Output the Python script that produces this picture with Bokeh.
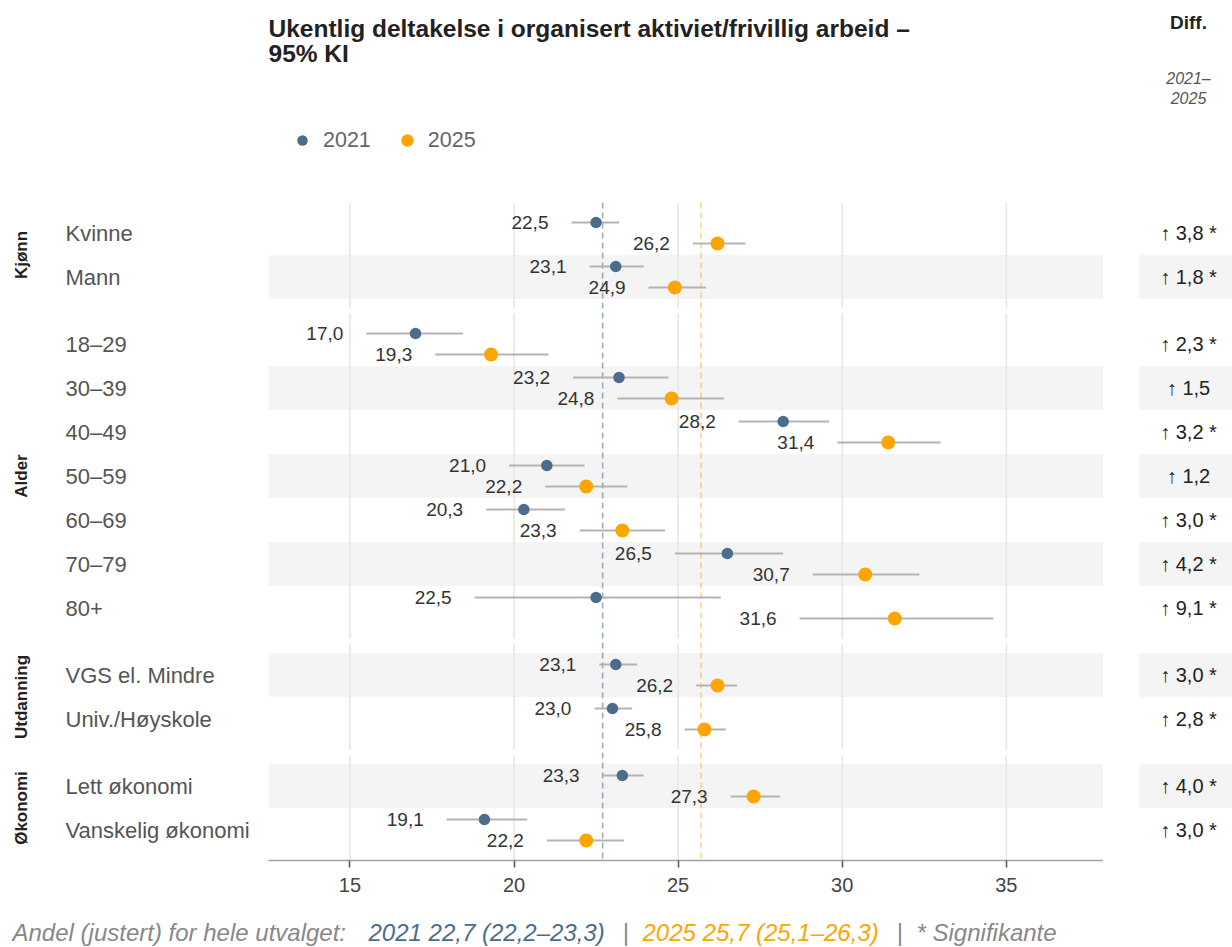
from math import pi
from bokeh.plotting import figure
from bokeh.layouts import column, row
from bokeh.models import (ColumnDataSource, Range1d, Legend, LegendItem, FixedTicker)
from bokeh.core.properties import value
from bokeh.embed import file_html
from bokeh.resources import INLINE

# ---------------- data ----------------
groups = ["Kjønn", "Alder", "Utdanning", "Økonomi"]
group_sizes = [2, 7, 2, 2]
categories = ["Kvinne", "Mann", "18–29", "30–39", "40–49", "50–59", "60–69",
              "70–79", "80+", "VGS el. Mindre", "Univ./Høyskole",
              "Lett økonomi", "Vanskelig økonomi"]
val_2021 = [22.5, 23.1, 17.0, 23.2, 28.2, 21.0, 20.3, 26.5, 22.5, 23.1, 23.0, 23.3, 19.1]
lo_2021 = [21.75, 22.3, 15.5, 21.8, 26.85, 19.85, 19.15, 24.9, 18.8, 22.6, 22.45, 22.7, 17.95]
hi_2021 = [23.2, 23.95, 18.45, 24.7, 29.6, 22.15, 21.55, 28.2, 26.3, 23.75, 23.6, 23.95, 20.4]
val_2025 = [26.2, 24.9, 19.3, 24.8, 31.4, 22.2, 23.3, 30.7, 31.6, 26.2, 25.8, 27.3, 22.2]
lo_2025 = [25.45, 24.1, 17.6, 23.15, 29.85, 20.95, 22.0, 29.1, 28.7, 25.55, 25.2, 26.6, 21.0]
hi_2025 = [27.05, 25.85, 21.05, 26.4, 33.0, 23.45, 24.6, 32.35, 34.6, 26.8, 26.45, 28.1, 23.35]
diff = [3.8, 1.8, 2.3, 1.5, 3.2, 1.2, 3.0, 4.2, 9.1, 3.0, 2.8, 4.0, 3.0]
significant = [True, True, True, False, True, False, True, True, True, True, True, True, True]
overall_years = ["2021", "2025"]
overall_value = [22.7, 25.7]
overall_lo = [22.2, 25.1]
overall_hi = [23.3, 26.3]
x_ticks = [15, 20, 25, 30, 35]

# ---------------- style ----------------
FONT = value("Liberation Sans")
C21 = "#4b6d8b"
C25 = "#ffa500"
BAND = "#f4f4f4"
GRID = "#e6e6e6"

ROW_H = 44.0
PAD = 8.5
GAP = 6.0

W, H = 1232, 947
FRAME_L, FRAME_R, FRAME_T = 268, 1103, 202
AXIS_H = 50


def fmt(v):
    return f"{v:.1f}".replace(".", ",")


def blank(width, height, xr, yr):
    f = figure(width=width, height=height, x_range=xr, y_range=yr,
               output_backend="svg", toolbar_location=None,
               x_axis_location=None, y_axis_location=None,
               min_border=0)
    f.outline_line_color = None
    f.grid.visible = False
    f.background_fill_color = "white"
    f.border_fill_color = "white"
    return f


# ---------------- layout of rows ----------------
row_top = []
facets = []
cur = 0.0
for n in group_sizes:
    ftop = cur
    cur += PAD
    for _ in range(n):
        row_top.append(cur)
        cur += ROW_H
    cur += PAD
    facets.append((ftop, cur))
    cur += GAP
total_h = cur - GAP
row_mid = [t + ROW_H / 2 for t in row_top]
y21 = [m - 10.5 for m in row_mid]
y25 = [m + 10.5 for m in row_mid]
band_idx = [i for i in range(len(categories)) if i % 2 == 1]

MID_H = int(total_h) + AXIS_H
BOT_H = H - FRAME_T - MID_H

yr = Range1d(total_h, 0)

# ---------------- main panel ----------------
x_lo, x_hi = 12.52, 37.96
p = figure(width=FRAME_R - FRAME_L, height=MID_H, x_range=Range1d(x_lo, x_hi),
           y_range=yr, output_backend="svg", toolbar_location=None,
           y_axis_location=None, min_border_left=0, min_border_right=0,
           min_border_top=0, min_border_bottom=AXIS_H)
p.outline_line_color = None
p.xgrid.visible = False
p.ygrid.visible = False
p.background_fill_color = "white"
p.border_fill_color = "white"

p.quad(left=[x_lo] * len(band_idx), right=[x_hi] * len(band_idx),
       top=[row_top[i] for i in band_idx],
       bottom=[row_top[i] + ROW_H for i in band_idx],
       fill_color=BAND, line_color=None)

gx, gy0, gy1 = [], [], []
for (ft, fb) in facets:
    for t in x_ticks:
        gx.append(t); gy0.append(ft); gy1.append(fb)
p.segment(x0=gx, y0=gy0, x1=gx, y1=gy1, line_color=GRID, line_width=1.6)

p.segment(x0=[overall_value[0]], y0=[0], x1=[overall_value[0]], y1=[total_h],
          line_color=C21, line_alpha=0.55, line_width=1.6, line_dash="6 4")
p.segment(x0=[overall_value[1]], y0=[0], x1=[overall_value[1]], y1=[total_h],
          line_color=C25, line_alpha=0.5, line_width=1.6, line_dash="6 4")

src21 = ColumnDataSource(dict(x=val_2021, lo=lo_2021, hi=hi_2021, y=y21,
                              txt=[fmt(v) for v in val_2021]))
src25 = ColumnDataSource(dict(x=val_2025, lo=lo_2025, hi=hi_2025, y=y25,
                              txt=[fmt(v) for v in val_2025]))
for s in (src21, src25):
    p.segment(x0="lo", y0="y", x1="hi", y1="y", source=s,
              line_color="#b3b3b3", line_width=2)
p.scatter(x="x", y="y", source=src21, size=11.5, fill_color=C21, line_color=None)
p.scatter(x="x", y="y", source=src25, size=14, fill_color=C25, line_color=None)
for s in (src21, src25):
    p.text(x="lo", y="y", text="txt", source=s, x_offset=-23,
           text_align="right", text_baseline="middle", text_font=FONT,
           text_font_size="19px", text_color="#333333")

ax = p.xaxis[0]
ax.ticker = FixedTicker(ticks=x_ticks)
ax.axis_line_color = "#a0a0a0"
ax.axis_line_width = 1.5
ax.major_tick_line_color = "#555555"
ax.major_tick_line_width = 1.5
ax.major_tick_out = 7
ax.major_tick_in = 0
ax.minor_tick_line_color = None
ax.major_label_text_font = "Liberation Sans"
ax.major_label_text_font_size = "20px"
ax.major_label_text_color = "#444444"
ax.major_label_standoff = 10

# ---------------- left panel (labels) ----------------
pl = blank(FRAME_L, MID_H, Range1d(0, FRAME_L), yr)
pl.min_border_bottom = AXIS_H
pl.text(x=[65] * len(categories), y=row_mid, text=categories,
        text_align="left", text_baseline="middle", text_font=FONT,
        text_font_size="22px", text_color="#555555")
pl.text(x=[21] * len(groups), y=[(a + b) / 2 for a, b in facets], text=groups,
        angle=pi / 2, text_align="center", text_baseline="middle",
        text_font=FONT, text_font_size="17px", text_font_style="bold",
        text_color="#222222")

# ---------------- right panel (diff) ----------------
pr = blank(W - FRAME_R, MID_H, Range1d(FRAME_R, W), yr)
pr.min_border_bottom = AXIS_H
pr.quad(left=[1139] * len(band_idx), right=[W] * len(band_idx),
        top=[row_top[i] for i in band_idx],
        bottom=[row_top[i] + ROW_H for i in band_idx],
        fill_color=BAND, line_color=None)
diff_txt = ["↑ " + fmt(d) + (" *" if s else "") for d, s in zip(diff, significant)]
pr.text(x=[1188] * len(diff), y=row_mid, text=diff_txt,
        text_align="center", text_baseline="middle", text_font=FONT,
        text_font_size="20px", text_color="#222222")

# ---------------- top panel ----------------
pt = blank(W, FRAME_T, Range1d(0, W), Range1d(FRAME_T, 0))
pt.text(x=[FRAME_L, FRAME_L], y=[28, 53],
        text=["Ukentlig deltakelse i organisert aktiviet/frivillig arbeid –", "95% KI"],
        text_align="left", text_baseline="middle", text_font=FONT,
        text_font_size="24.5px", text_font_style="bold", text_color="#222222")
pt.text(x=[1188], y=[22], text=["Diff."], text_align="center",
        text_baseline="middle", text_font=FONT, text_font_size="19px",
        text_font_style="bold", text_color="#222222")
pt.text(x=[1188, 1188], y=[78, 97], text=[overall_years[0] + "–", overall_years[1]],
        text_align="center", text_baseline="middle", text_font=FONT,
        text_font_size="16px", text_font_style="italic", text_color="#555555")
# legend: markers drawn at the legend's glyph slots, labels from a Legend
LEG_X, LEG_Y, LEG_STEP = 288, 126, 105
lg_dot_x = [LEG_X + 14 + i * LEG_STEP for i in range(2)]
pt.scatter(x=lg_dot_x, y=[LEG_Y + 14] * 2, size=[10.5, 12.5],
           fill_color=[C21, C25], line_color=None)
lg21 = pt.scatter(x=[], y=[], size=1, fill_alpha=0, line_alpha=0)
lg25 = pt.scatter(x=[], y=[], size=1, fill_alpha=0, line_alpha=0)
legend = Legend(items=[LegendItem(label=overall_years[0], renderers=[lg21]),
                       LegendItem(label=overall_years[1], renderers=[lg25])],
                location=(LEG_X, FRAME_T - LEG_Y - 28), orientation="horizontal",
                glyph_width=28, glyph_height=28, label_standoff=7, spacing=22,
                padding=0, margin=0, border_line_color=None,
                background_fill_alpha=0, label_text_font="Liberation Sans",
                label_text_font_size="21.5px", label_text_color="#666666")
pt.add_layout(legend)

# ---------------- bottom panel (footer) ----------------
Y0 = FRAME_T + MID_H
pb = blank(W, BOT_H, Range1d(0, W), Range1d(H, Y0))
foot_txt = ["Andel (justert) for hele utvalget:",
            f"{overall_years[0]} {fmt(overall_value[0])} ({fmt(overall_lo[0])}–{fmt(overall_hi[0])})",
            "|",
            f"{overall_years[1]} {fmt(overall_value[1])} ({fmt(overall_lo[1])}–{fmt(overall_hi[1])})",
            "|",
            "* Signifikante"]
foot_x = [12, 368, 622, 642, 896, 916]
foot_col = ["#888888", C21, "#888888", C25, "#888888", "#888888"]
pb.text(x=foot_x, y=[932] * len(foot_x), text=foot_txt, text_align="left",
        text_baseline="middle", text_font=FONT, text_font_size="24px",
        text_font_style="italic", text_color=foot_col)

layout = column(pt, row(pl, p, pr), pb)
open("out.html", "w").write(file_html(layout, INLINE))
